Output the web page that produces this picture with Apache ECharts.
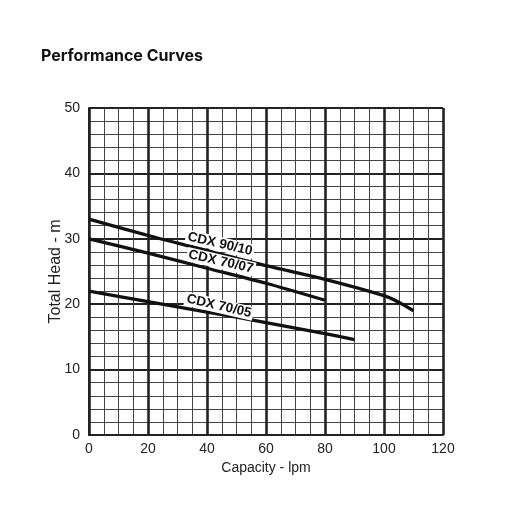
<!DOCTYPE html>
<html>
<head>
<meta charset="utf-8">
<script src="https://cdn.jsdelivr.net/npm/echarts@6/dist/echarts.min.js"></script>
<style>html,body{margin:0;padding:0;background:#fff}#c{width:512px;height:512px}</style>
</head>
<body>
<div id="c"></div>
<script>
const titleText = 'Performance Curves';
const xName = 'Capacity - lpm';
const yName = 'Total Head - m';
const seriesNames = ['CDX 90/10', 'CDX 70/07', 'CDX 70/05'];
const cdx9010 = [[0,33],[20,30.5],[40,28.2],[60,25.9],[80,23.8],[100,21.3],[105,20.3],[110,19.0]];
const cdx7007 = [[0,30],[20,27.8],[40,25.5],[60,23.2],[80,20.6]];
const cdx7005 = [[0,22],[20,20.4],[40,18.8],[60,17.2],[80,15.5],[90,14.6]];
const labelPos = [[44.4,29.2],[44.7,26.5],[44.1,19.7]];
const seriesData = [cdx9010, cdx7007, cdx7005];

const chart = echarts.init(document.getElementById('c'), null, {renderer:'canvas'});
const font = 'Arial, "Liberation Sans", sans-serif';
chart.setOption({
  animation: false,
  backgroundColor: '#fff',
  title: {
    text: titleText, left: 36, top: 43,
    textStyle: {fontFamily: 'Inter, Arial, sans-serif', fontWeight: 700, fontSize: 16, color: '#111'}
  },
  grid: {left: 89, right: 69, top: 108, bottom: 77},
  xAxis: {
    type: 'value', min: 0, max: 120, interval: 20,
    name: xName, nameLocation: 'middle', nameGap: 26, nameMoveOverlap: false,
    nameTextStyle: {fontFamily: font, fontSize: 14, color: '#222'},
    axisLine: {show: true, lineStyle: {color: '#222', width: 2}},
    axisTick: {show: false},
    axisLabel: {fontFamily: font, fontSize: 14, color: '#222', margin: 7},
    splitLine: {show: true, lineStyle: {color: '#222', width: 2.6}},
    minorTick: {show: false, splitNumber: 4},
    minorSplitLine: {show: true, lineStyle: {color: '#444', width: 1}}
  },
  yAxis: {
    type: 'value', min: 0, max: 50, interval: 10,
    name: yName, nameLocation: 'middle', nameGap: 25, nameMoveOverlap: false,
    nameTextStyle: {fontFamily: font, fontSize: 16, color: '#222'},
    axisLine: {show: true, lineStyle: {color: '#222', width: 2}},
    axisTick: {show: false},
    axisLabel: {fontFamily: font, fontSize: 14, color: '#222', margin: 9},
    splitLine: {show: true, lineStyle: {color: '#222', width: 1.8}},
    minorTick: {show: false, splitNumber: 5},
    minorSplitLine: {show: true, lineStyle: {color: '#444', width: 1}}
  },
  series: seriesNames.map((n, i) => ({
    name: n, type: 'line', data: seriesData[i], smooth: 0.3,
    showSymbol: false, symbol: 'none',
    lineStyle: {color: '#111', width: 3.3},
    markPoint: {
      symbol: 'circle', symbolSize: 0,
      data: [{coord: labelPos[i], value: n}],
      label: {
        show: true, position: 'inside', formatter: n, rotate: -13,
        fontFamily: font, fontWeight: 'bold', fontSize: 13.5, color: '#111',
        backgroundColor: '#fff', padding: [0, 2]
      }
    }
  }))
});
</script>
</body>
</html>
